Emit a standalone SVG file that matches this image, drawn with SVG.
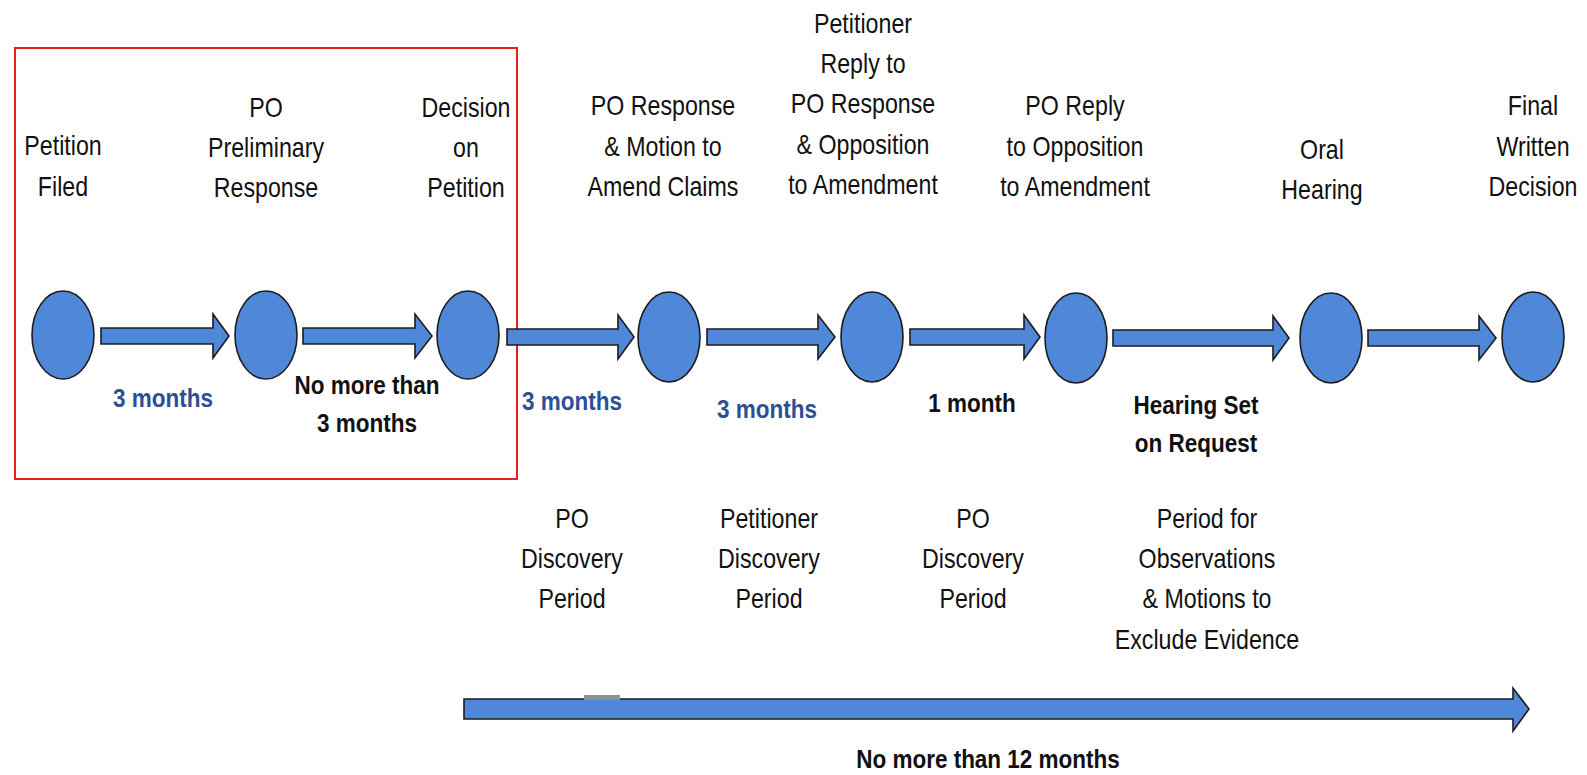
<svg xmlns="http://www.w3.org/2000/svg" width="1587" height="775" viewBox="0 0 1587 775">
  <defs>
    <style>
      .bg { fill: #ffffff; }
      .node { fill: #4f88d8; stroke: #1c1c1c; stroke-width: 1.6; }
      .arrow { fill: #4f88d8; stroke: #1c1c1c; stroke-width: 1.6; stroke-linejoin: miter; }
      .lbl { font-family: "Liberation Sans", Arial, sans-serif; font-size: 27px; fill: #111111; text-anchor: middle; }
      .dur { font-family: "Liberation Sans", Arial, sans-serif; font-size: 25px; font-weight: bold; text-anchor: middle; }
      .blue { fill: #2e4f93; }
      .black { fill: #111111; }
      .frame { fill: none; stroke: #e3221f; stroke-width: 2; }
    </style>
  </defs>

  <rect class="bg" x="0" y="0" width="1587" height="775"/>

  <!-- highlight frame around the first phase -->
  <rect class="frame" x="15" y="48" width="502" height="431"/>

  <!-- connectors: block arrows between milestones -->
  <g id="connectors">
    <path class="arrow" d="M101,328 H213 V314 L229,336 L213,358 V344 H101 Z"/>
    <path class="arrow" d="M303,328 H415 V314 L432,336 L415,358 V344 H303 Z"/>
    <path class="arrow" d="M507,329 H618 V315 L634,337 L618,359 V345 H507 Z"/>
    <path class="arrow" d="M707,329 H818 V315 L835,337 L818,359 V345 H707 Z"/>
    <path class="arrow" d="M910,329 H1024 V315 L1040,337 L1024,359 V345 H910 Z"/>
    <path class="arrow" d="M1113,330 H1273 V316 L1289,338 L1273,360 V346 H1113 Z"/>
    <path class="arrow" d="M1368,330 H1479 V316 L1496,338 L1479,360 V346 H1368 Z"/>
    <!-- overall timeline -->
    <path class="arrow" d="M464,699 H1513 V688 L1529,709 L1513,731 V719 H464 Z"/>
    <rect x="584" y="695" width="36" height="5" fill="#8a8f9a"/>
  </g>

  <!-- milestones -->
  <g id="petition-filed">
    <ellipse class="node" cx="63" cy="335" rx="31" ry="44"/>
    <text class="lbl" transform="translate(63 155) scale(0.86 1)"><tspan x="0" y="0">Petition</tspan><tspan x="0" y="41">Filed</tspan></text>
  </g>
  <g id="po-preliminary-response">
    <ellipse class="node" cx="266" cy="335" rx="31" ry="44"/>
    <text class="lbl" transform="translate(266 117) scale(0.86 1)"><tspan x="0" y="0">PO</tspan><tspan x="0" y="40">Preliminary</tspan><tspan x="0" y="80">Response</tspan></text>
  </g>
  <g id="decision-on-petition">
    <ellipse class="node" cx="468" cy="335" rx="31" ry="44"/>
    <text class="lbl" transform="translate(466 117) scale(0.86 1)"><tspan x="0" y="0">Decision</tspan><tspan x="0" y="40">on</tspan><tspan x="0" y="80">Petition</tspan></text>
  </g>
  <g id="po-response">
    <ellipse class="node" cx="669" cy="337" rx="31" ry="45"/>
    <text class="lbl" transform="translate(663 115) scale(0.86 1)"><tspan x="0" y="0">PO Response</tspan><tspan x="0" y="41">&amp; Motion to</tspan><tspan x="0" y="81">Amend Claims</tspan></text>
  </g>
  <g id="petitioner-reply">
    <ellipse class="node" cx="872" cy="337" rx="31" ry="45"/>
    <text class="lbl" transform="translate(863 33) scale(0.86 1)"><tspan x="0" y="0">Petitioner</tspan><tspan x="0" y="40">Reply to</tspan><tspan x="0" y="80">PO Response</tspan><tspan x="0" y="121">&amp; Opposition</tspan><tspan x="0" y="161">to Amendment</tspan></text>
  </g>
  <g id="po-reply">
    <ellipse class="node" cx="1076" cy="338" rx="31" ry="45"/>
    <text class="lbl" transform="translate(1075 115) scale(0.86 1)"><tspan x="0" y="0">PO Reply</tspan><tspan x="0" y="41">to Opposition</tspan><tspan x="0" y="81">to Amendment</tspan></text>
  </g>
  <g id="oral-hearing">
    <ellipse class="node" cx="1331" cy="338" rx="31" ry="45"/>
    <text class="lbl" transform="translate(1322 159) scale(0.86 1)"><tspan x="0" y="0">Oral</tspan><tspan x="0" y="40">Hearing</tspan></text>
  </g>
  <g id="final-written-decision">
    <ellipse class="node" cx="1533" cy="337" rx="31" ry="45"/>
    <text class="lbl" transform="translate(1533 115) scale(0.86 1)"><tspan x="0" y="0">Final</tspan><tspan x="0" y="41">Written</tspan><tspan x="0" y="81">Decision</tspan></text>
  </g>

  <!-- durations between milestones -->
  <g id="durations">
    <text class="dur blue" transform="translate(163 407) scale(0.9 1)">3 months</text>
    <text class="dur black" transform="translate(367 394) scale(0.9 1)"><tspan x="0" y="0">No more than</tspan><tspan x="0" y="38">3 months</tspan></text>
    <text class="dur blue" transform="translate(572 410) scale(0.9 1)">3 months</text>
    <text class="dur blue" transform="translate(767 418) scale(0.9 1)">3 months</text>
    <text class="dur black" transform="translate(972 412) scale(0.9 1)">1 month</text>
    <text class="dur black" transform="translate(1196 414) scale(0.9 1)"><tspan x="0" y="0">Hearing Set</tspan><tspan x="0" y="38">on Request</tspan></text>
    <text class="dur black" transform="translate(988 768) scale(0.9 1)">No more than 12 months</text>
  </g>

  <!-- discovery periods -->
  <g id="periods">
    <text class="lbl" transform="translate(572 528) scale(0.86 1)"><tspan x="0" y="0">PO</tspan><tspan x="0" y="40">Discovery</tspan><tspan x="0" y="80">Period</tspan></text>
    <text class="lbl" transform="translate(769 528) scale(0.86 1)"><tspan x="0" y="0">Petitioner</tspan><tspan x="0" y="40">Discovery</tspan><tspan x="0" y="80">Period</tspan></text>
    <text class="lbl" transform="translate(973 528) scale(0.86 1)"><tspan x="0" y="0">PO</tspan><tspan x="0" y="40">Discovery</tspan><tspan x="0" y="80">Period</tspan></text>
    <text class="lbl" transform="translate(1207 528) scale(0.86 1)"><tspan x="0" y="0">Period for</tspan><tspan x="0" y="40">Observations</tspan><tspan x="0" y="80">&amp; Motions to</tspan><tspan x="0" y="121">Exclude Evidence</tspan></text>
  </g>
</svg>
